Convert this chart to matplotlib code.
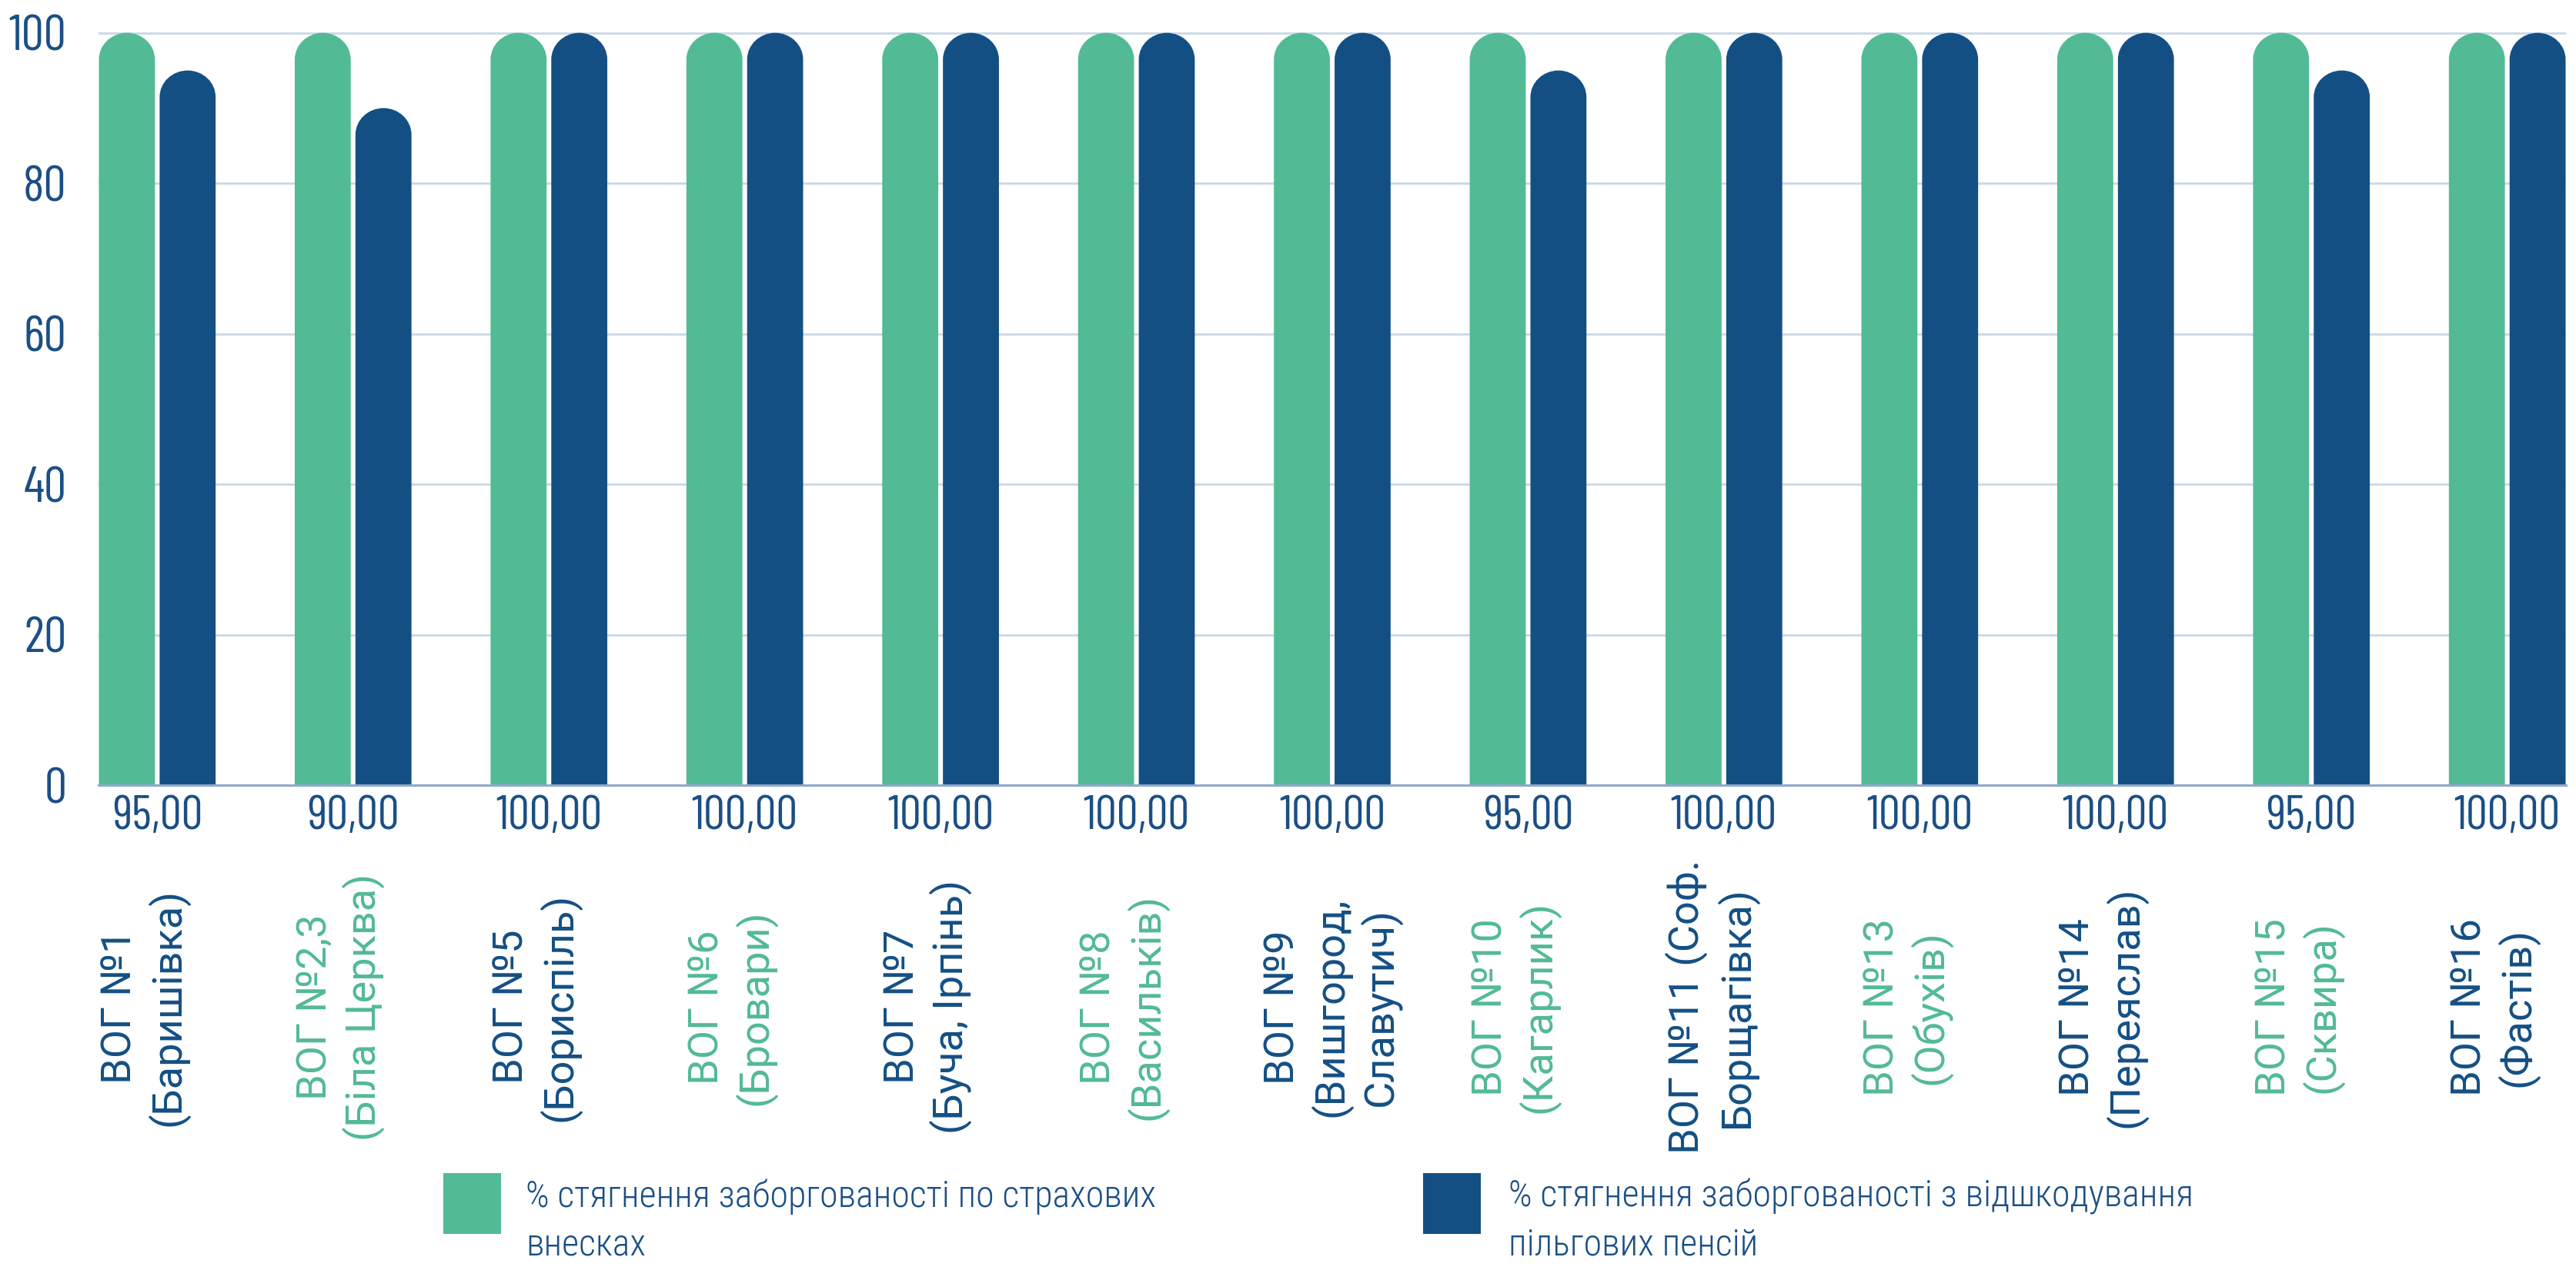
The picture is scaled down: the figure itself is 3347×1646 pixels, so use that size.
import matplotlib
matplotlib.use("Agg")
import matplotlib.pyplot as plt
from matplotlib import font_manager
from matplotlib.path import Path
from matplotlib.patches import PathPatch, Rectangle
import matplotlib.transforms as mtransforms
import numpy as np

# ---------------- data ----------------
categories = [
    "ВОГ №1\n(Баришівка)",
    "ВОГ №2,3\n(Біла Церква)",
    "ВОГ №5\n(Бориспіль)",
    "ВОГ №6\n(Бровари)",
    "ВОГ №7\n(Буча, Ірпінь)",
    "ВОГ №8\n(Васильків)",
    "ВОГ №9\n(Вишгород,\nСлавутич)",
    "ВОГ №10\n(Кагарлик)",
    "ВОГ №11 (Соф.\nБорщагівка)",
    "ВОГ №13\n(Обухів)",
    "ВОГ №14\n(Переяслав)",
    "ВОГ №15\n(Сквира)",
    "ВОГ №16\n(Фастів)",
]
insurance_pct = [100, 100, 100, 100, 100, 100, 100, 100, 100, 100, 100, 100, 100]
pension_pct = [95, 90, 100, 100, 100, 100, 100, 95, 100, 100, 100, 95, 100]
value_labels = [f"{v:.2f}".replace(".", ",") for v in pension_pct]
yticks = [0, 20, 40, 60, 80, 100]
series_names = [
    "% стягнення заборгованості по страхових\nвнесках",
    "% стягнення заборгованості з відшкодування\nпільгових пенсій",
]

GREEN = "#52BA94"
BLUE = "#144F84"
TXT = "#1B4F85"
GRID = "#C9D8E5"
SPINE = "#8FAACB"

names = {f.name for f in font_manager.fontManager.ttflist}

def pick(cands, default):
    for c in cands:
        if c in names:
            return c
    return default

NUM = pick(["Barlow Condensed", "Roboto Condensed", "Liberation Sans Narrow"], "Roboto")
COND = [pick(["Roboto Condensed", "Liberation Sans Narrow"], "Roboto"), "DejaVu Sans"]
REG = [pick(["Roboto", "Liberation Sans"], "DejaVu Sans"), "DejaVu Sans"]

W, H = 3347, 1646
fig = plt.figure(figsize=(W / 100, H / 100), dpi=100)
ax_left, ax_right = 128 / W, 3334 / W
ax_bottom = 1 - 1020 / H
y100 = 1 - 42.7 / H
ytop = 101
ax_h = (y100 - ax_bottom) * ytop / 100
ax = fig.add_axes([ax_left, ax_bottom, ax_right - ax_left, ax_h])

x = np.arange(len(categories))
bw = 0.286
off = 0.155
b1 = ax.bar(x - off, insurance_pct, bw, color=GREEN, zorder=3)
b2 = ax.bar(x + off, pension_pct, bw, color=BLUE, zorder=3)
ax.set_xlim(-0.30, len(categories) - 1 + 0.30)
ax.set_ylim(0, ytop)

# rounded tops built from the bar geometry
ax_w_px = (ax_right - ax_left) * W
ax_h_px = ax_h * H
px_per_x = ax_w_px / (ax.get_xlim()[1] - ax.get_xlim()[0])
px_per_y = ax_h_px / (ax.get_ylim()[1] - ax.get_ylim()[0])
k = 0.5523
for cont in (b1, b2):
    for r in cont:
        x0, w, h = r.get_x(), r.get_width(), r.get_height()
        rx = w / 2
        ry = (rx * px_per_x * 0.95) / px_per_y
        verts = [
            (x0, 0), (x0, h - ry),
            (x0, h - ry + k * ry), (x0 + rx - k * rx, h), (x0 + rx, h),
            (x0 + rx + k * rx, h), (x0 + w, h - ry + k * ry), (x0 + w, h - ry),
            (x0 + w, 0), (x0, 0),
        ]
        codes = [Path.MOVETO, Path.LINETO,
                 Path.CURVE4, Path.CURVE4, Path.CURVE4,
                 Path.CURVE4, Path.CURVE4, Path.CURVE4,
                 Path.LINETO, Path.CLOSEPOLY]
        p = PathPatch(Path(verts, codes), facecolor=r.get_facecolor(), edgecolor="none", zorder=3)
        ax.add_patch(p)
        r.set_visible(False)

for s in ("top", "right", "left"):
    ax.spines[s].set_visible(False)
ax.spines["bottom"].set_color(SPINE)
ax.spines["bottom"].set_linewidth(2.2)
ax.spines["bottom"].set_zorder(4)
ax.set_yticks(yticks)
ax.set_yticklabels([str(t) for t in yticks], fontfamily=NUM, fontweight="normal",
                   fontsize=47, color=TXT)
ax.tick_params(axis="y", length=0, pad=30)
ax.set_xticks([])
ax.yaxis.grid(True, color=GRID, linewidth=2.0, zorder=0)
ax.set_axisbelow(True)

trans = mtransforms.blended_transform_factory(ax.transData, ax.transAxes)
for i, lab in enumerate(value_labels):
    ax.text(x[i], -0.0415, lab, transform=trans, ha="center", va="center",
            fontfamily=NUM, fontweight="normal", fontsize=45, color=TXT)

for i, lab in enumerate(categories):
    nlines = lab.count("\n") + 1
    dx = -0.065 if nlines == 2 else 0.0
    ax.text(x[i] + dx, -0.292, lab, transform=trans, ha="center", va="center",
            rotation=90, rotation_mode="anchor", multialignment="center",
            linespacing=1.2, fontfamily=REG, fontsize=39,
            color=(BLUE if i % 2 == 0 else GREEN))

# legend (manual)
sq_w, sq_h = 75 / W, 79 / H
sq_y = 1 - 1603 / H
for sx, tx, col, name in ((576 / W, 683 / W, GREEN, series_names[0]),
                          (1849 / W, 1960 / W, BLUE, series_names[1])):
    fig.patches.append(Rectangle((sx, sq_y), sq_w, sq_h, transform=fig.transFigure,
                                 facecolor=col, edgecolor="none"))
    fig.text(tx, 0.0365, name, ha="left", va="center", fontfamily=COND,
             fontweight="light", fontsize=34.5, color=TXT, linespacing=1.45)

fig.savefig("out.png", dpi=100)
